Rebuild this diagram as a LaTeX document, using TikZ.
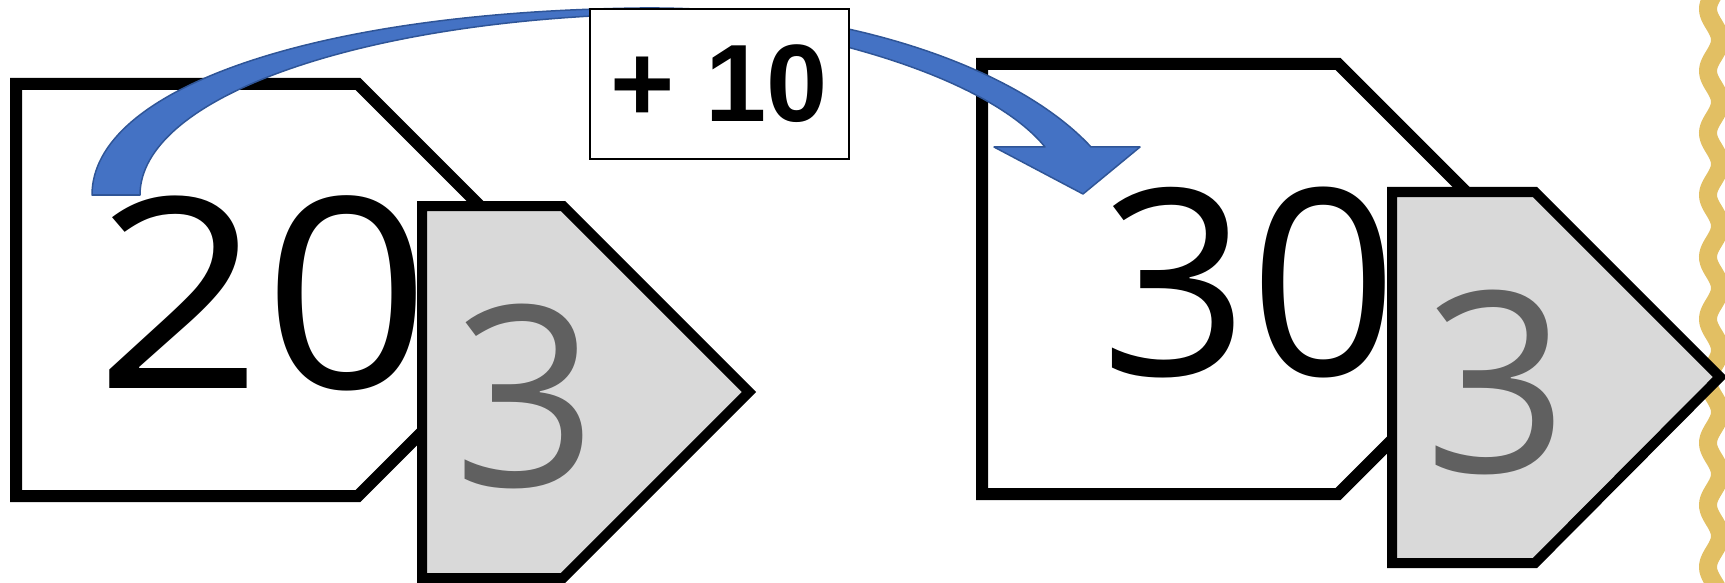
\documentclass[tikz,border=0pt]{standalone}
\usepackage{fontspec}
\setmainfont{Open Sans}
\newfontfamily\boxfont{Liberation Sans}
\definecolor{tagfill}{HTML}{D9D9D9}
\definecolor{taggrey}{HTML}{606060}
\definecolor{arrowblue}{HTML}{4472C4}
\definecolor{arrowedge}{HTML}{2F5597}
\definecolor{frameyellow}{HTML}{E2BF63}
\tikzset{
  bigtag/.style={draw=black, line width=6pt, fill=white, line join=miter},
  smalltag/.style={draw=black, line width=5pt, fill=tagfill, line join=miter},
  bignum/.style={inner sep=0pt, text=black},
  tagnum/.style={inner sep=0pt, text=taggrey, font=\fontsize{126}{126}\selectfont},
  plusbox/.style={draw=black, line width=1.25pt, fill=white, inner sep=0pt,
    minimum width=129.5pt, minimum height=75pt,
    font=\boxfont\bfseries\fontsize{55}{55}\selectfont},
  curvearrow/.style={fill=arrowblue, draw=arrowedge, line width=0.75pt, line join=round},
  wavy/.style={draw=frameyellow, line width=9pt}
}
\begin{document}
\begin{tikzpicture}[x=0.5pt,y=-0.5pt]
\useasboundingbox (0,0) rectangle (1725,583);
% yellow wavy edge
\begin{scope}
\clip (0,0) rectangle (1725,583);
\draw[wavy] plot[domain=-20:610, samples=240, smooth] ({1714+6*sin(5.806*(\x-86.5))},\x);
\end{scope}
% big white tags
\draw[bigtag] (16,84) -- (358,84) -- (564,290) -- (358,496) -- (16,496) -- cycle;
\draw[bigtag] (982,64) -- (1338,64) -- (1553,279) -- (1338,494) -- (982,494) -- cycle;
% numbers in big tags
\node[bignum, font=\fontsize{133}{133}\selectfont] (n20) at (263,293) {\scalebox{1.1}[1]{20}};
\node[bignum, font=\fontsize{130}{130}\selectfont] (n30) at (1249,283) {30};
% small grey tags
\draw[smalltag] (422,206) -- (563,206) -- (749,392) -- (563,578) -- (422,578) -- cycle;
\draw[smalltag] (1392,192) -- (1535,192) -- (1720,377) -- (1535,563) -- (1392,563) -- cycle;
\node[tagnum] (s1) at (526,396) {3};
\node[tagnum] (s2) at (1497,382) {3};
% curved arrow
\coordinate (tailout) at (92,195);
\coordinate (tailin) at (140,195);
\coordinate (topout) at (640,8);
\coordinate (topin) at (640,14);
\coordinate (headout) at (1091,147);
\coordinate (headin) at (1045,147);
\coordinate (barbR) at (1140,147);
\coordinate (barbL) at (994,147);
\coordinate (tip) at (1083,194);
\filldraw[curvearrow] (tailout) .. controls (92,90) and (310,12) .. (topout)
  .. controls (850,6) and (1020,70) .. (headout) -- (barbR) -- (tip) -- (barbL) -- (headin)
  .. controls (995,85) and (840,28) .. (topin)
  .. controls (350,22) and (140,100) .. (tailin) -- cycle;
% label box
\node[plusbox] (plus) at (719.5,84) {\raisebox{-2pt}{+ 10}};
\end{tikzpicture}
\end{document}
